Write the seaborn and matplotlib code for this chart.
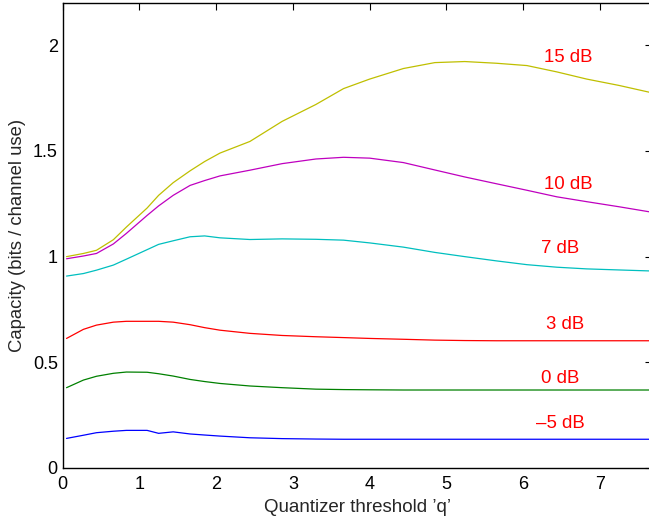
import numpy as np
import pandas as pd
import matplotlib
matplotlib.use("Agg")
import matplotlib.pyplot as plt
import seaborn as sns

# ── data ───────────────────────────────────────────────────────────────────
q = [0.05, 0.27, 0.44, 0.66, 0.83, 1.10, 1.25, 1.44, 1.66, 1.85, 2.05, 2.44,
     2.86, 3.30, 3.66, 4.00, 4.44, 4.85, 5.24, 5.65, 6.05, 6.44, 6.83, 7.25, 7.68]

cap_m5 = [0.140, 0.155, 0.167, 0.174, 0.178, 0.178, 0.164, 0.171, 0.161, 0.156, 0.151, 0.143,
          0.139, 0.137, 0.136, 0.136, 0.136, 0.136, 0.136, 0.136, 0.136, 0.136, 0.136, 0.136, 0.136]
cap_0 = [0.380, 0.416, 0.434, 0.448, 0.454, 0.453, 0.446, 0.435, 0.419, 0.409, 0.400, 0.388,
         0.380, 0.373, 0.371, 0.370, 0.369, 0.369, 0.369, 0.369, 0.369, 0.369, 0.369, 0.369, 0.369]
cap_3 = [0.613, 0.656, 0.676, 0.690, 0.694, 0.694, 0.694, 0.690, 0.678, 0.664, 0.652, 0.637,
         0.627, 0.621, 0.617, 0.613, 0.609, 0.605, 0.603, 0.602, 0.602, 0.602, 0.602, 0.602, 0.602]
cap_7 = [0.908, 0.920, 0.936, 0.960, 0.988, 1.033, 1.058, 1.075, 1.094, 1.098, 1.089, 1.081,
         1.084, 1.082, 1.078, 1.065, 1.045, 1.020, 1.000, 0.980, 0.962, 0.950, 0.942, 0.937, 0.932]
cap_10 = [0.990, 1.003, 1.015, 1.060, 1.110, 1.195, 1.240, 1.290, 1.337, 1.360, 1.382, 1.409,
          1.440, 1.462, 1.470, 1.466, 1.445, 1.410, 1.377, 1.345, 1.314, 1.283, 1.260, 1.236, 1.210]
cap_15 = [1.000, 1.015, 1.030, 1.080, 1.140, 1.230, 1.290, 1.350, 1.406, 1.450, 1.490, 1.545,
          1.640, 1.720, 1.795, 1.840, 1.890, 1.918, 1.923, 1.915, 1.904, 1.874, 1.840, 1.810, 1.775]

snr_labels = ["–5 dB", "0 dB", "3 dB", "7 dB", "10 dB", "15 dB"]
label_x = [6.48, 6.48, 6.55, 6.48, 6.59, 6.59]
label_y = [0.211, 0.424, 0.681, 1.039, 1.341, 1.940]

# MATLAB-style default colour order
colors = [(0, 0, 1), (0, 0.5, 0), (1, 0, 0), (0, 0.75, 0.75), (0.75, 0, 0.75), (0.75, 0.75, 0)]

series = [cap_m5, cap_0, cap_3, cap_7, cap_10, cap_15]
df = pd.concat([pd.DataFrame({"q": q, "cap": s, "snr": lab})
                for s, lab in zip(series, snr_labels)], ignore_index=True)

# ── plot ───────────────────────────────────────────────────────────────────
sns.set_style("white")
plt.rcParams['font.family'] = ['Liberation Sans', 'DejaVu Sans']
plt.rcParams['font.size'] = 13

fig = plt.figure(figsize=(6.49, 5.16), dpi=100)
ax = fig.add_axes([62.7 / 649, 48 / 516, (652 - 62.7) / 649, 465 / 516])

sns.lineplot(data=df, x="q", y="cap", hue="snr", palette=dict(zip(snr_labels, colors)),
             linewidth=0.9, legend=False, ax=ax)

for lab, lx, ly in zip(snr_labels, label_x, label_y):
    ax.text(lx, ly, lab, color="red", fontsize=13.4, ha="center", va="center")

ax.set_xlim(0, 7.68)
ax.set_ylim(0, 2.2)
ax.set_xticks(range(0, 8))
ax.set_yticks([0, 0.5, 1, 1.5, 2])
ax.set_yticklabels(["0", "0.5", "1", "1.5", "2"])
ax.set_xlabel("Quantizer threshold \u2019q\u2019", fontsize=13.5, labelpad=4)
ax.set_ylabel("Capacity (bits / channel use)", fontsize=13.3, labelpad=5)
ax.tick_params(direction="in", top=True, right=True, length=5, width=0.8,
               labelsize=13, colors="black")
ax.tick_params(axis="x", pad=6)
for sp in ax.spines.values():
    sp.set_visible(True)
    sp.set_color("black")
    sp.set_linewidth(1.0)

fig.savefig("out.png", dpi=100)
